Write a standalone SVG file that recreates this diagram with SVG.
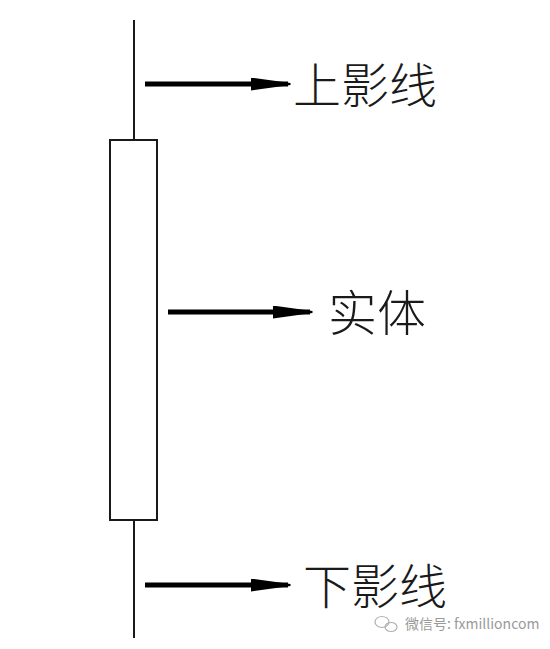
<svg xmlns="http://www.w3.org/2000/svg" width="550" height="649" viewBox="0 0 550 649">
<style>
.ln{stroke:#1a1a1a;stroke-width:2;fill:none}
.ar{stroke:#000;stroke-width:5;fill:none}
.lb{font-family:"Noto Sans CJK SC","Noto Sans",sans-serif;fill:#1a1a1a;font-weight:300}
.wm{font-family:"Noto Sans CJK SC","Liberation Sans",sans-serif;fill:#9a9a9a;font-size:14px}
</style>
<defs>
<marker id="ah" markerWidth="8" markerHeight="2.6" refX="7.5" refY="1.3" orient="auto" markerUnits="strokeWidth">
<path d="M0,0 L8,1.1 L8,1.5 L0,2.6 Z" fill="#000"/>
</marker>
</defs>
<rect width="550" height="649" fill="#fff"/>
<g id="candle">
<line class="ln" x1="134" y1="20" x2="134" y2="140"/>
<rect class="ln" x="110" y="140" width="47" height="380" fill="#fff"/>
<line class="ln" x1="134" y1="520" x2="134" y2="638"/>
</g>
<g id="connectors">
<line class="ar" x1="145" y1="84" x2="288" y2="84" marker-end="url(#ah)"/>
<line class="ar" x1="168" y1="312" x2="310" y2="312" marker-end="url(#ah)"/>
<line class="ar" x1="145" y1="585" x2="288" y2="585" marker-end="url(#ah)"/>
</g>
<g id="upper-label"><text class="lb" x="293" y="103" font-size="48">上影线</text></g>
<g id="body-label"><text class="lb" x="328" y="331" font-size="49">实体</text></g>
<g id="lower-label"><text class="lb" x="303" y="604" font-size="48">下影线</text></g>
<g id="watermark">
<ellipse cx="382" cy="622" rx="7" ry="5.5" fill="none" stroke="#b0b0b0" stroke-width="1.2"/>
<ellipse cx="391" cy="627" rx="6" ry="4.5" fill="none" stroke="#b0b0b0" stroke-width="1.2"/>
<text class="wm" x="405" y="629">微信号: fxmillioncom</text>
</g>
</svg>
